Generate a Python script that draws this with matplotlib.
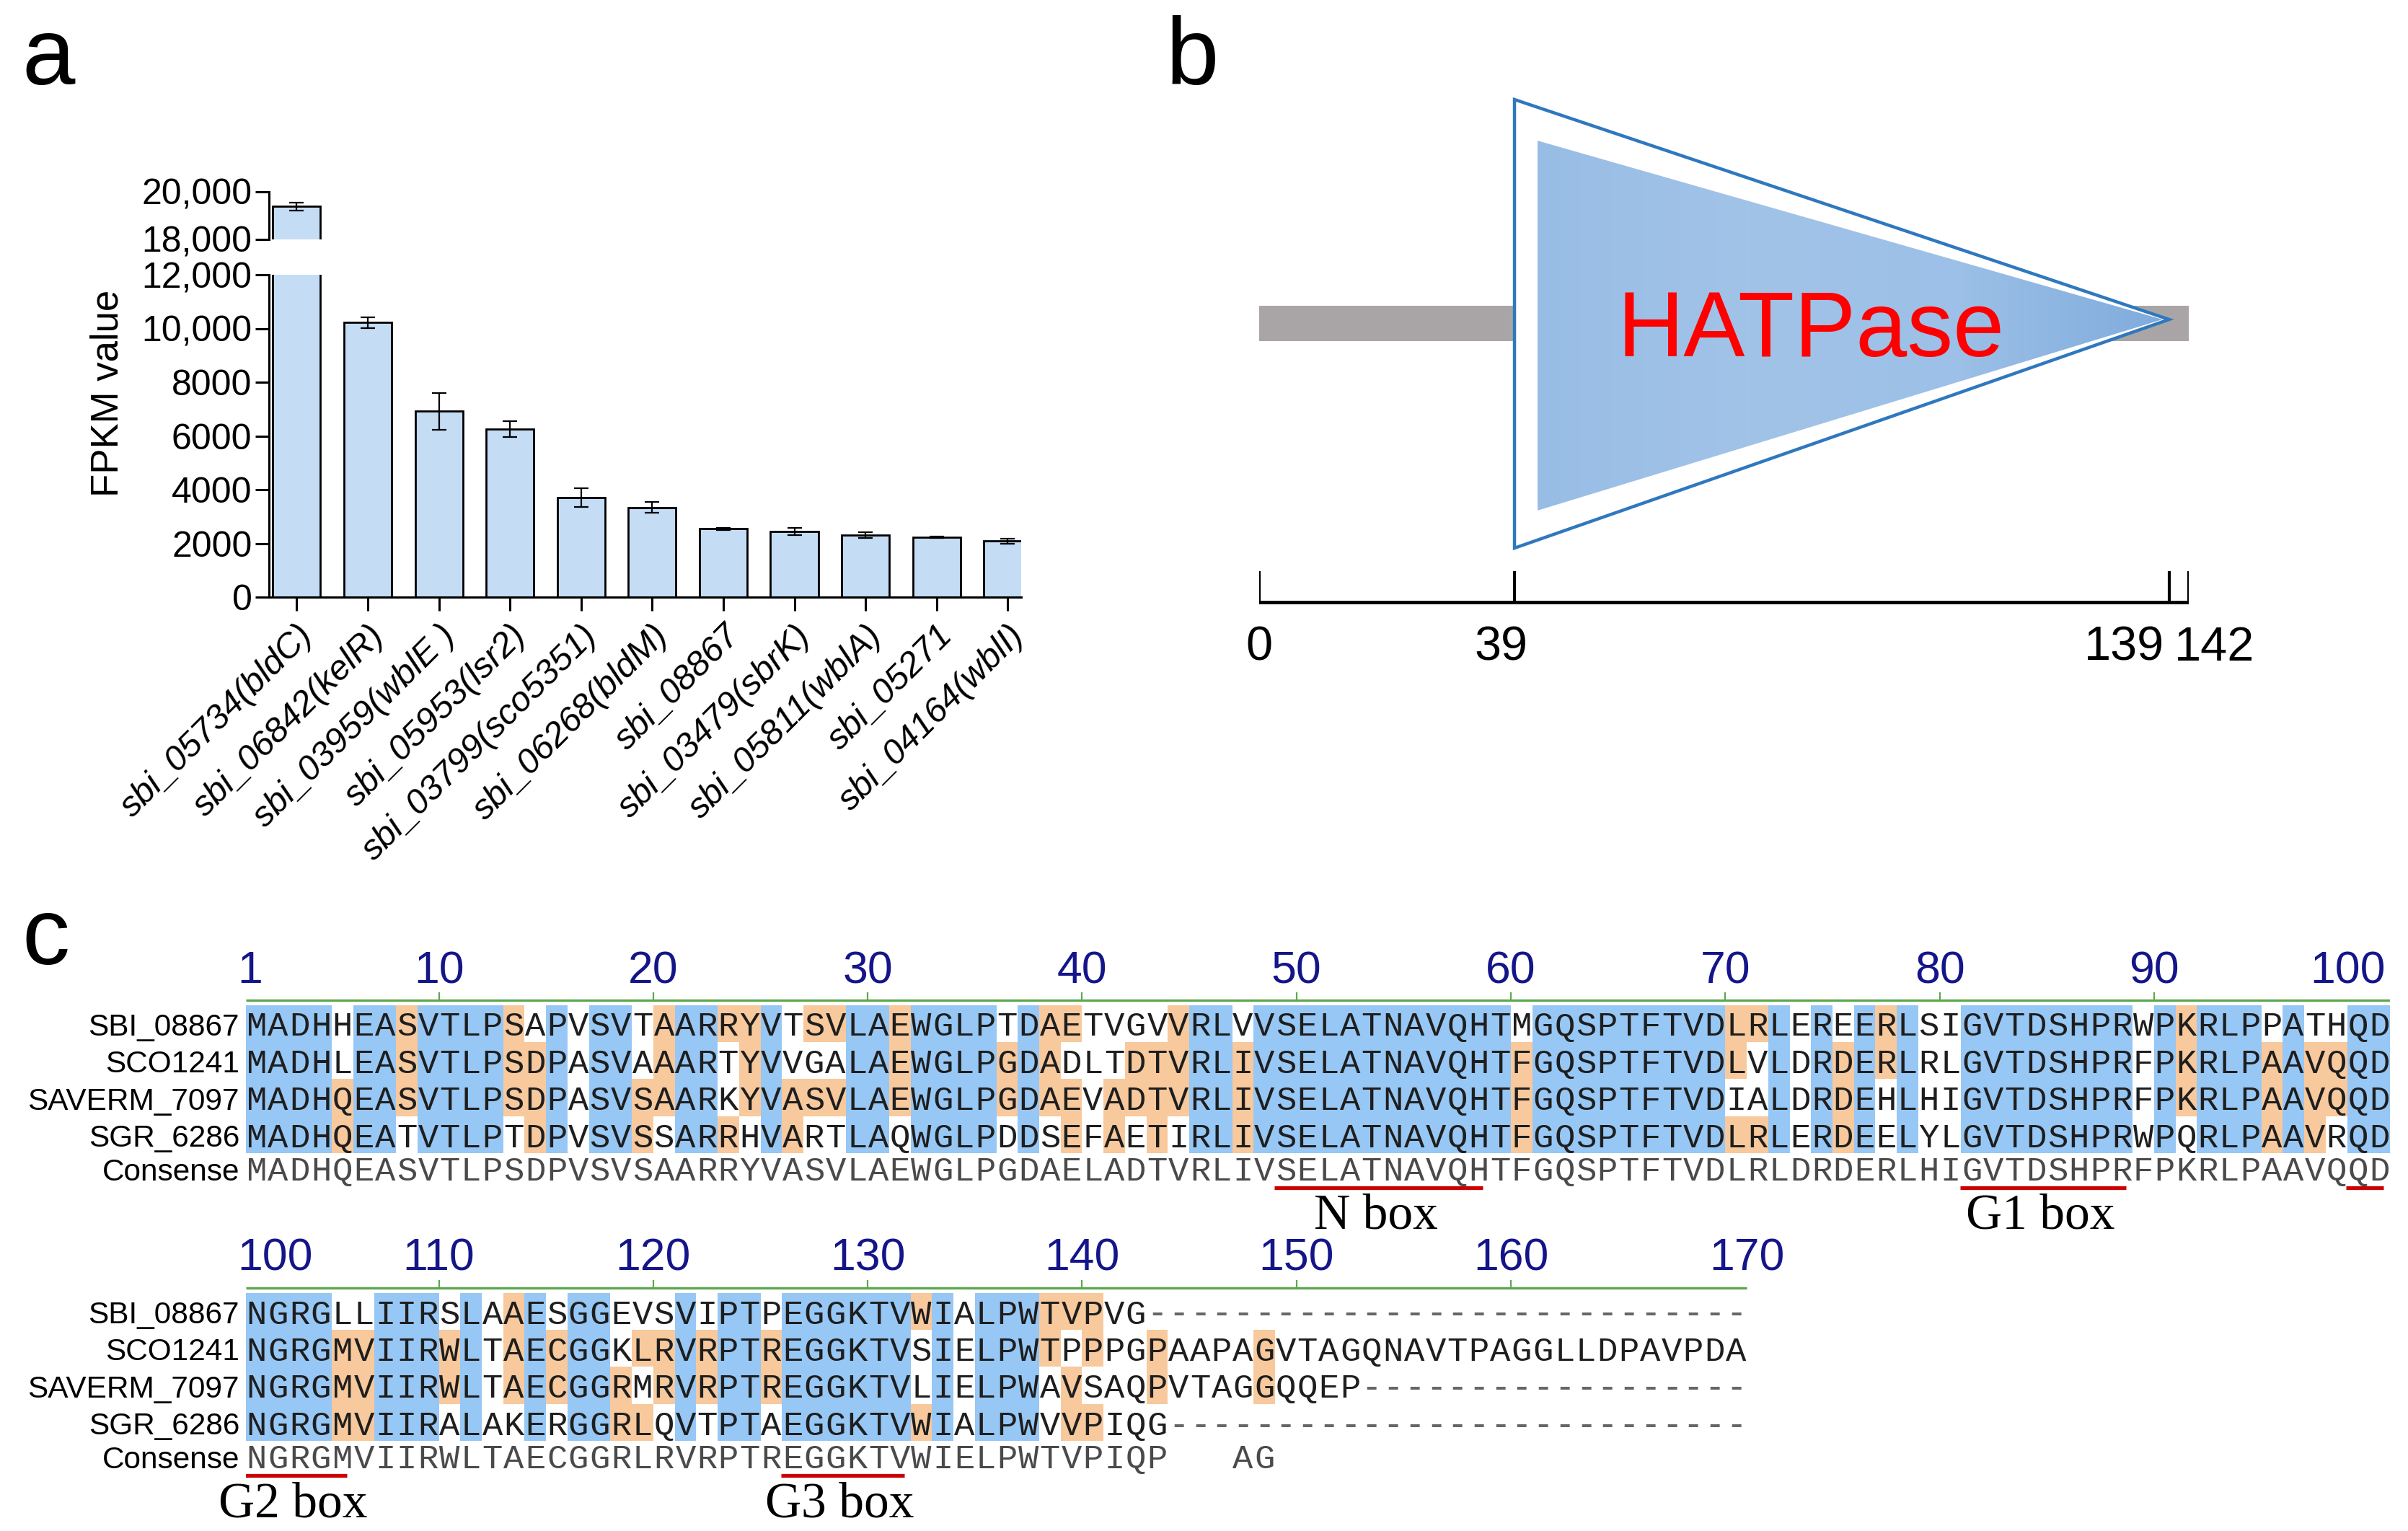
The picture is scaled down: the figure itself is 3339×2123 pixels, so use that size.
import matplotlib
matplotlib.use('Agg')
import matplotlib.pyplot as plt
import numpy as np
from matplotlib.patches import Rectangle, Polygon
from matplotlib.colors import LinearSegmentedColormap

plt.rcParams['font.family'] = ['Liberation Sans', 'DejaVu Sans']

# ---------------- panel a data
genes = ['sbi_05734(bldC)', 'sbi_06842(kelR)', 'sbi_03959(wblE )', 'sbi_05953(lsr2)',
         'sbi_03799(sco5351)', 'sbi_06268(bldM)', 'sbi_08867', 'sbi_03479(sbrK)',
         'sbi_05811(wblA)', 'sbi_05271', 'sbi_04164(wblI)']
fpkm = [19380, 10220, 6920, 6260, 3700, 3340, 2540, 2450, 2300, 2230, 2090]
fpkm_sd = [180, 200, 690, 300, 350, 210, 50, 130, 110, 20, 90]
low_ticks = [0, 2000, 4000, 6000, 8000, 10000, 12000]
low_labels = ['0', '2000', '4000', '6000', '8000', '10,000', '12,000']
high_ticks = [18000, 20000]
high_labels = ['18,000', '20,000']

# ---------------- panel b data
protein_len = 142
domain_name = 'HATPase'
domain_start, domain_end = 39, 139
scale_marks = [0, 39, 139, 142]

# ---------------- panel c data
names = ['SBI_08867', 'SCO1241', 'SAVERM_7097', 'SGR_6286']
seq_block1 = [
    'MADHHEASVTLPSAPVSVTAARRYVTSVLAEWGLPTDAETVGVVRLVVSELATNAVQHTMGQSPTFTVDLRLEREERLSIGVTDSHPRWPKRLPPATHQD',
    'MADHLEASVTLPSDPASVAAARTYVVGALAEWGLPGDADLTDTVRLIVSELATNAVQHTFGQSPTFTVDLVLDRDERLRLGVTDSHPRFPKRLPAAVQQD',
    'MADHQEASVTLPSDPASVSAARKYVASVLAEWGLPGDAEVADTVRLIVSELATNAVQHTFGQSPTFTVDIALDRDEHLHIGVTDSHPRFPKRLPAAVQQD',
    'MADHQEATVTLPTDPVSVSSARRHVARTLAQWGLPDDSEFAETIRLIVSELATNAVQHTFGQSPTFTVDLRLERDEELYLGVTDSHPRWPQRLPAAVRQD',
]
cons_block1 = 'MADHQEASVTLPSDPVSVSAARRYVASVLAEWGLPGDAELADTVRLIVSELATNAVQHTFGQSPTFTVDLRLDRDERLHIGVTDSHPRFPKRLPAAVQQD'
seq_block2 = [
    'NGRGLLIIRSLAAESGGEVSVIPTPEGGKTVWIALPWTVPVG' + '-' * 28,
    'NGRGMVIIRWLTAECGGKLRVRPTREGGKTVSIELPWTPPPGPAAPAGVTAGQNAVTPAGGLLDPAVPDA',
    'NGRGMVIIRWLTAECGGRMRVRPTREGGKTVLIELPWAVSAQPVTAGGQQEP' + '-' * 18,
    'NGRGMVIIRALAKERGGRLQVTPTAEGGKTVWIALPWVVPIQG' + '-' * 27,
]
cons_block2 = 'NGRGMVIIRWLTAECGGRLRVRPTREGGKTVWIELPWTVPIQP   AG'
ruler1 = [1, 10, 20, 30, 40, 50, 60, 70, 80, 90, 100]
ruler2 = [100, 110, 120, 130, 140, 150, 160, 170]
motifs = [('N box', 49, 58), ('G1 box', 81, 88), ('G2 box', 99, 105), ('G3 box', 126, 131)]

W, H = 3339, 2123
fig = plt.figure(figsize=(W / 100, H / 100), dpi=100)


def px_axes(x0, y0, x1, y1):
    return fig.add_axes([x0 / W, 1 - y1 / H, (x1 - x0) / W, (y1 - y0) / H])


# panel letters
for lab, lx, ly in [('a', 30, 117), ('b', 1617, 117), ('c', 30, 1337)]:
    fig.text(lx / W, 1 - ly / H, lab, fontsize=95, ha='left', va='baseline')

# ================= panel a : broken-axis bar chart
bar_c = '#C5DCF5'
xb = np.arange(len(genes))
ax_lo = px_axes(373, 381, 1416, 828)
ax_hi = px_axes(373, 266, 1416, 332)
for ax in (ax_lo, ax_hi):
    ax.bar(xb, fpkm, width=0.67, color=bar_c, edgecolor='black', linewidth=2)
    ax.errorbar(xb, fpkm, yerr=fpkm_sd, fmt='none', ecolor='black',
                elinewidth=1.6, capsize=7, capthick=1.6)
    ax.set_xlim(-0.39, 10.19)
    ax.spines['top'].set_visible(False)
    ax.spines['right'].set_visible(False)
    ax.spines['left'].set_linewidth(2.2)
    ax.spines['bottom'].set_linewidth(2.2)
    ax.tick_params(axis='y', direction='out', length=14, width=2.2, labelsize=36, pad=3)
ax_hi.spines['bottom'].set_visible(False)
ax_hi.set_xticks([])
ax_hi.set_ylim(18000, 20000)
ax_hi.set_yticks(high_ticks)
ax_hi.set_yticklabels(high_labels)
ax_lo.set_ylim(0, 12000)
ax_lo.set_yticks(low_ticks)
ax_lo.set_yticklabels(low_labels)
ax_lo.set_xticks(xb)
ax_lo.set_xticklabels(genes, rotation=45, ha='right', rotation_mode='anchor',
                      fontsize=35, style='italic')
ax_lo.tick_params(axis='x', direction='out', length=14, width=2.2, pad=8)
fig.text(149 / W, 1 - 545 / H, 'FPKM value', rotation=90, fontsize=38,
         ha='center', va='center')

# ================= panel b : domain diagram
ax_b = px_axes(1746, 0, 3035, 1000)
ax_b.add_patch(Rectangle((0, 424), protein_len, 49, color='#A9A5A7', lw=0, zorder=1))
outer = Polygon([(domain_start, 138), (domain_start, 760), (domain_end, 443)], closed=True,
                facecolor='white', edgecolor='#2F78BE', lw=3.2, joinstyle='miter', zorder=2)
ax_b.add_patch(outer)
inner_pts = [(domain_start + 3.5, 195), (domain_start + 3.5, 708), (domain_end - 1, 443)]
inner = Polygon(inner_pts, closed=True, facecolor='none', edgecolor='none', zorder=3)
ax_b.add_patch(inner)
grad = np.linspace(0, 1, 256).reshape(1, -1)
cmap = LinearSegmentedColormap.from_list('dom', ['#98BDE5', '#A2C3E8', '#9CC0E7', '#7FABDC'])
im = ax_b.imshow(grad, extent=(domain_start + 3.5, domain_end, 708, 195), cmap=cmap,
                 aspect='auto', zorder=3, interpolation='bilinear')
im.set_clip_path(inner)
ax_b.text(84.3, 494, domain_name, color='#FF0000', fontsize=92, ha='center',
          va='baseline', zorder=5)
ax_b.plot([0, protein_len], [835, 835], color='black', lw=3.4, solid_capstyle='projecting')
for m in scale_marks:
    ax_b.plot([m, m], [835, 792], color='black', lw=3.0, solid_capstyle='butt')
lab_style = {0: ('center', 0), 39: ('center', -2), 139: ('right', -0.8), 142: ('left', -2.2)}
for m in scale_marks:
    ha, dx = lab_style[m]
    ax_b.text(m + dx, 916, str(m), fontsize=48, ha=ha, va='baseline')
ax_b.set_xlim(0, protein_len)
ax_b.set_ylim(1000, 0)
ax_b.axis('off')

# ================= panel c : alignment
blue_c = '#97C7F5'
orange_c = '#F8C99C'
col_w = 29.73
ax_c = px_axes(341, 1290, 341 + 100 * col_w, 2123)
ax_c.set_xlim(0, 100)
ax_c.set_ylim(833, 0)
ax_c.axis('off')


def cell_colours(seqs, cons):
    out = [[None] * len(s) for s in seqs]
    for j in range(len(seqs[0])):
        col = [s[j] for s in seqs]
        res = [c for c in col if c != '-']
        if len(res) == len(col) and len(set(res)) == 1:
            for r in range(len(seqs)):
                out[r][j] = blue_c
            continue
        c = cons[j] if j < len(cons) else ' '
        if c in ' -':
            continue
        counts = {a: res.count(a) for a in set(res)}
        others = [v for a, v in counts.items() if a != c]
        if counts.get(c, 0) >= 2 and counts[c] > max(others + [0]):
            for r in range(len(seqs)):
                if col[r] == c:
                    out[r][j] = orange_c
    return out


row_gap = 51.4
blocks = [(seq_block1, cons_block1, ruler1, 1, 0), (seq_block2, cons_block2, ruler2, 101, 399)]
for seqs, cons, ruler, start, y0 in blocks:
    ncol = len(seqs[0])
    colours = cell_colours(seqs, cons)
    # ruler
    ax_c.plot([0, ncol], [y0 + 97, y0 + 97], color='#5DA84E', lw=2.4, solid_capstyle='butt')
    for i, n in enumerate(ruler):
        xt = n - start
        if 0 < xt < ncol - 1:
            ax_c.plot([xt, xt], [y0 + 97, y0 + 87], color='#5DA84E', lw=1.6)
        if i == 0:
            ax_c.text(-0.4, y0 + 73, str(n), fontsize=45, color='#15158A', ha='left', va='baseline')
        elif i == len(ruler) - 1:
            if ncol >= 100:
                ax_c.text(ncol - 0.2, y0 + 73, str(n), fontsize=45, color='#15158A',
                          ha='right', va='baseline')
            else:
                ax_c.text(ncol, y0 + 73, str(n), fontsize=45, color='#15158A',
                          ha='center', va='baseline')
        else:
            ax_c.text(xt, y0 + 73, str(n), fontsize=45, color='#15158A', ha='center', va='baseline')
    # sequences
    for r, s in enumerate(seqs):
        yc = y0 + 132 + r * row_gap
        ax_c.text(-0.3, yc + 14, names[r], fontsize=30.5, ha='right', va='baseline')
        for j, ch in enumerate(s):
            if colours[r][j]:
                ax_c.add_patch(Rectangle((j, yc - 28.5), 1, row_gap, color=colours[r][j], lw=0))
            ax_c.text(j + 0.5, yc + 14.5, ch, fontsize=34, family='Liberation Mono',
                      color='#666666' if ch == '-' else '#1E1E1E', ha='center', va='baseline')
    # consensus
    yc = y0 + 132 + 4 * row_gap - 5
    ax_c.text(-0.3, yc + 14, 'Consense', fontsize=30.5, ha='right', va='baseline')
    for j, ch in enumerate(cons):
        if ch != ' ':
            ax_c.text(j + 0.5, yc + 14.5, ch, fontsize=34, family='Liberation Mono',
                      color='#4A4A4A', ha='center', va='baseline')
    # motif underlines
    for name, m0, m1 in motifs:
        a = max(m0, start) - start
        b = min(m1, start + ncol - 1) - start + 1
        if b <= a:
            continue
        ax_c.plot([a - 0.05, b - 0.3], [y0 + 357, y0 + 357], color='#CC0000', lw=3.8,
                  solid_capstyle='butt')
        if b - a >= 3:
            ax_c.text((a + b) / 2 - 0.3, y0 + 414, name, fontsize=50, family='Liberation Serif',
                      ha='center', va='baseline')

fig.savefig('out.png', dpi=100)
